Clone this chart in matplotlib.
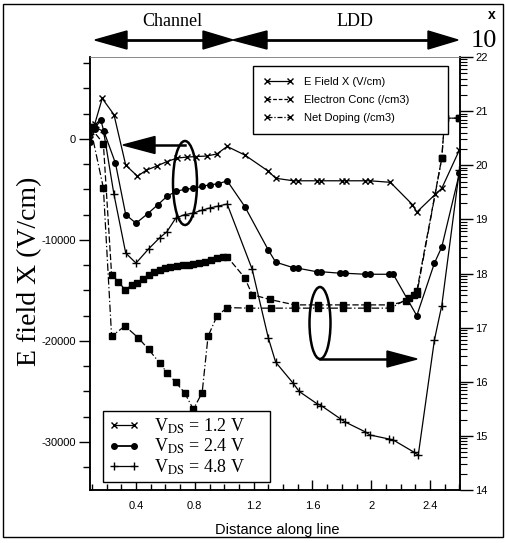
import numpy as np
import matplotlib.pyplot as plt
from matplotlib.patches import Ellipse, Polygon, Rectangle
from matplotlib.lines import Line2D
from matplotlib.ticker import FixedLocator, MultipleLocator

plt.rcParams['font.family'] = ['Liberation Sans', 'DejaVu Sans']
plt.rcParams['mathtext.fontset'] = 'stix'
plt.rcParams['axes.unicode_minus'] = False

# E field X (V/cm) on the left axis, one curve per V_DS
xE12 = [0.09, 0.12, 0.17, 0.25, 0.33, 0.41, 0.47, 0.54, 0.61, 0.68, 0.75, 0.81, 0.88, 0.95, 1.02,
        1.14, 1.30, 1.35, 1.47, 1.50, 1.63, 1.66, 1.80, 1.83, 1.96, 1.99, 2.13, 2.28, 2.31, 2.435, 2.48, 2.60]
yE12 = [0, 1500, 4000, 2400, -2600, -3700, -3100, -2700, -2250, -1900, -1800, -1750, -1700, -1500, -750,
        -1600, -3200, -3900, -4150, -4150, -4150, -4150, -4150, -4150, -4150, -4150, -4300, -6500, -7250, -5500, -4900, -1100]

xE24 = [0.09, 0.12, 0.16, 0.18, 0.26, 0.33, 0.40, 0.48, 0.55, 0.61, 0.67, 0.73, 0.79, 0.85, 0.90, 0.96, 1.02,
        1.14, 1.30, 1.35, 1.47, 1.50, 1.63, 1.66, 1.79, 1.82, 1.96, 1.99, 2.12, 2.15, 2.31, 2.43, 2.48, 2.60]
yE24 = [-300, 1000, 1900, 800, -2400, -7500, -8350, -7400, -6500, -5700, -5200, -5000, -4900, -4700, -4550, -4450, -4150,
        -6700, -11000, -12200, -12750, -12800, -13150, -13150, -13300, -13300, -13400, -13400, -13400, -13400, -17500, -12300, -10700, -3400]

xE48 = [0.09, 0.12, 0.18, 0.25, 0.33, 0.40, 0.485, 0.56, 0.61, 0.67, 0.73, 0.79, 0.85, 0.90, 0.96, 1.02,
        1.19, 1.30, 1.35, 1.47, 1.51, 1.63, 1.66, 1.79, 1.82, 1.96, 1.99, 2.12, 2.15, 2.29, 2.32, 2.43, 2.48, 2.60]
yE48 = [500, 1200, 700, -5500, -11300, -12300, -10900, -9800, -9200, -7850, -7500, -7350, -7050, -6850, -6650, -6450,
        -12900, -19700, -22100, -24200, -25000, -26200, -26400, -27700, -28000, -29000, -29300, -29700, -29800, -31000, -31300, -19900, -16500, -3100]

# concentrations, log10(/cm3), right axis
xConc = [0.09, 0.178, 0.234, 0.28, 0.325, 0.37, 0.41, 0.45, 0.485, 0.52, 0.56, 0.60, 0.63, 0.68, 0.72, 0.76,
         0.79, 0.83, 0.87, 0.91, 0.95, 0.99, 1.02, 1.14, 1.19, 1.31, 1.48, 1.64, 1.81, 1.97, 2.13, 2.24, 2.29,
         2.31, 2.48, 2.50, 2.60]
cConc = [20.7, 20.4, 17.98, 17.85, 17.70, 17.78, 17.83, 17.90, 17.98, 18.03, 18.07, 18.10, 18.12, 18.14, 18.15, 18.16,
         18.18, 18.20, 18.22, 18.25, 18.28, 18.30, 18.31, 17.92, 17.61, 17.52, 17.42, 17.42, 17.42, 17.42, 17.42, 17.49, 17.60,
         17.67, 20.13, 20.87, 20.87]

xDop = [0.09, 0.178, 0.234, 0.325, 0.416, 0.485, 0.56, 0.61, 0.67, 0.73, 0.79, 0.85, 0.89, 0.95, 1.02,
        1.17, 1.32, 1.48, 1.64, 1.81, 1.97, 2.13, 2.26, 2.31, 2.48, 2.50, 2.60]
cDop = [20.7, 19.58, 16.84, 17.03, 16.81, 16.60, 16.35, 16.17, 15.99, 15.80, 15.49, 15.80, 16.84, 17.21, 17.37,
        17.36, 17.36, 17.36, 17.36, 17.36, 17.36, 17.36, 17.55, 17.62, 20.13, 20.87, 20.87]

vdsLabels = [r'V$_{\rm DS}$ = 1.2 V', r'V$_{\rm DS}$ = 2.4 V', r'V$_{\rm DS}$ = 4.8 V']
quantityLabels = ['E Field X (V/cm)', 'Electron Conc (/cm3)', 'Net Doping (/cm3)']

W, H = 506, 543
fig = plt.figure(figsize=(W / 100, H / 100), dpi=100)
ax = fig.add_axes([90 / W, 1 - 490 / H, 370 / W, 433 / H])
ax2 = ax.twinx()

lw = 0.9
ax.plot(xE12, yE12, color='k', lw=lw, marker='x', ms=5, mew=1)
ax.plot(xE24, yE24, color='k', lw=lw, marker='o', ms=4)
ax.plot(xE48, yE48, color='k', lw=lw, marker='+', ms=6, mew=1)

ax2.plot(xConc, cConc, color='k', lw=lw, ls=(0, (5, 2)), marker='s', ms=4.5)
ax2.plot(xDop, cDop, color='k', lw=lw, ls=(0, (6, 2, 1, 2)), marker='s', ms=4.5)

ax.set_xlim(0.087, 2.604)
ax.set_ylim(-34750, 8100)
ax2.set_ylim(14, 22)

ax.xaxis.set_major_locator(FixedLocator([0.4, 0.8, 1.2, 1.6, 2.0, 2.4]))
ax.set_xticklabels(['0.4', '0.8', '1.2', '1.6', '2', '2.4'])
ax.xaxis.set_minor_locator(MultipleLocator(0.1))
ax.yaxis.set_major_locator(FixedLocator([-30000, -20000, -10000, 0]))
ax.yaxis.set_minor_locator(MultipleLocator(2500))
ax2.yaxis.set_major_locator(FixedLocator(range(14, 23)))
logMinor = [d + np.log10(k) for d in range(14, 22) for k in range(2, 10)]
ax2.yaxis.set_minor_locator(FixedLocator(logMinor))

ax.tick_params(axis='x', which='major', direction='in', length=7, width=1, labelsize=8, pad=8)
ax.tick_params(axis='x', which='minor', direction='in', length=4, width=1)
ax.tick_params(axis='y', which='major', direction='out', length=8, width=1, labelsize=8, pad=2)
ax.tick_params(axis='y', which='minor', direction='out', length=5, width=1)
ax2.tick_params(axis='y', which='major', direction='out', length=9, width=1, labelsize=8, pad=2)
ax2.tick_params(axis='y', which='minor', direction='out', length=5, width=0.8)

for a in (ax, ax2):
    for s in a.spines.values():
        s.set_linewidth(1.1)
    a.spines['top'].set_linewidth(0.5)
    a.spines['top'].set_color('0.5')

ax.set_ylabel('E field X (V/cm)', family='Liberation Serif', fontsize=20, va='center')
ax.yaxis.set_label_coords(-0.162, 0.506)
ax.set_xlabel('Distance along line', fontsize=10.5, va='center')
ax.xaxis.set_label_coords(0.505, -0.092)

# overlay in pixel coordinates for annotations
ov = fig.add_axes([0, 0, 1, 1], zorder=10)
ov.set_xlim(0, W)
ov.set_ylim(H, 0)
ov.axis('off')
ov.patch.set_alpha(0)


def arrowHead(tip, base, yc, half):
    ov.add_patch(Polygon([[tip, yc], [base, yc - half], [base, yc + half]], closed=True,
                         facecolor='k', edgecolor='k'))


# region arrows on top
ov.plot([110, 220], [40, 40], color='k', lw=2)
arrowHead(95, 127, 40, 9)
arrowHead(233, 203, 40, 9)
ov.plot([245, 445], [40, 40], color='k', lw=2)
arrowHead(233, 267, 40, 9)
arrowHead(458, 428, 40, 9)
ov.text(172, 22, 'Channel', family='Liberation Serif', fontsize=13, ha='center', va='center')
ov.text(355, 22, 'LDD', family='Liberation Serif', fontsize=13, ha='center', va='center')
ov.text(492, 15, 'x', fontsize=10, fontweight='bold', ha='center', va='center')
ov.text(484, 41, '10', family='Liberation Serif', fontsize=19, ha='center', va='center')

# ellipse + arrow toward left axis
ov.add_patch(Ellipse((185, 183), 24, 84, fill=False, edgecolor='k', lw=1.8))
ov.plot([150, 185], [145, 145], color='k', lw=1.8)
arrowHead(123, 155, 145, 8.5)

# ellipse + arrow toward right axis
ov.add_patch(Ellipse((320, 323), 21, 72, fill=False, edgecolor='k', lw=1.8))
ov.plot([320, 392], [359, 359], color='k', lw=1.8)
arrowHead(417, 387, 359, 8)

# outer frame
ov.add_patch(Rectangle((3, 4), 500, 533, fill=False, edgecolor='k', lw=1))

qHandles = [Line2D([], [], color='k', lw=lw, marker='x', ms=5, ls='-'),
            Line2D([], [], color='k', lw=lw, marker='x', ms=5, ls=(0, (3, 1.5))),
            Line2D([], [], color='k', lw=lw, marker='x', ms=5, ls=(0, (4, 1.5, 1, 1.5)))]
leg1 = ov.legend(qHandles, quantityLabels, loc='upper left', mode='expand',
                 bbox_to_anchor=(253 / W, 1 - 132 / H, 195 / W, 66 / H), bbox_transform=fig.transFigure,
                 borderaxespad=0, fancybox=False, framealpha=1, edgecolor='k', fontsize=8,
                 numpoints=2, handlelength=2.6, handletextpad=1.0, labelspacing=0.7, borderpad=1.0)
leg1.get_frame().set_linewidth(1)
ov.add_artist(leg1)

vHandles = [Line2D([], [], color='k', lw=lw, marker='x', ms=4),
            Line2D([], [], color='k', lw=1.3, marker='o', ms=4),
            Line2D([], [], color='k', lw=lw, marker='+', ms=6)]
leg2 = ov.legend(vHandles, vdsLabels, loc='lower left', mode='expand',
                 bbox_to_anchor=(103 / W, 1 - 482 / H, 167 / W, 69 / H), bbox_transform=fig.transFigure,
                 borderaxespad=0, fancybox=False, framealpha=1, edgecolor='k',
                 prop={'family': 'Liberation Serif', 'size': 13},
                 numpoints=2, handlelength=1.7, handletextpad=0.8, labelspacing=0.05, borderpad=0.3)
leg2.get_frame().set_linewidth(1)

fig.savefig('out.png', dpi=100)
